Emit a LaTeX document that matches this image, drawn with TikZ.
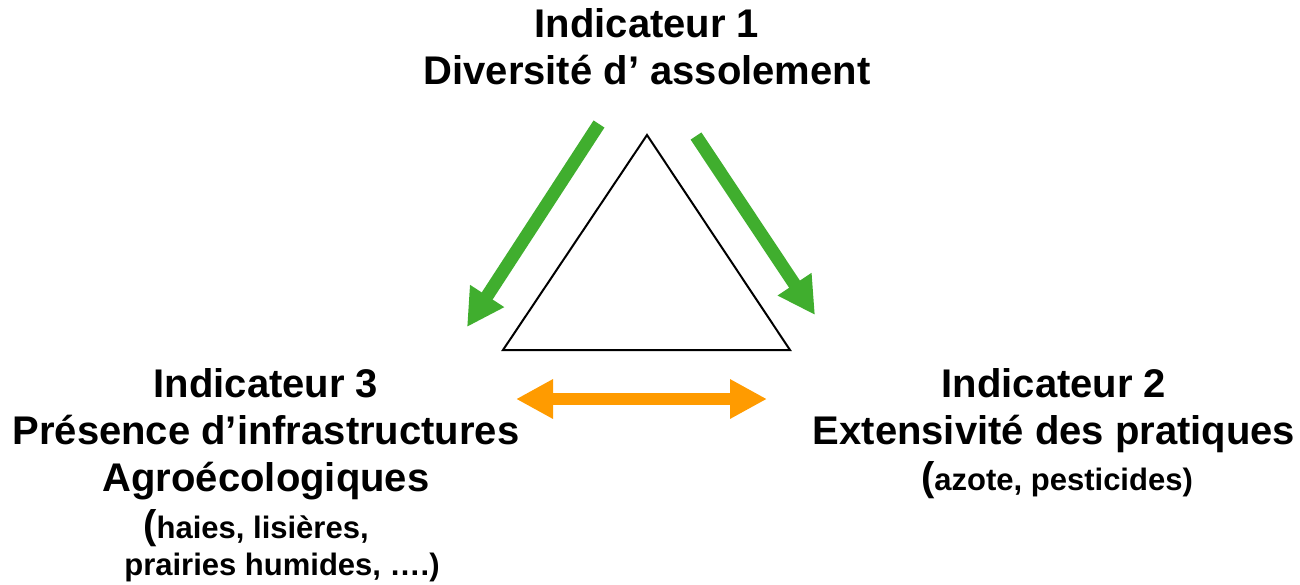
\documentclass[tikz,border=0pt]{standalone}
\usepackage{fontspec}
\setmainfont{Liberation Sans}
\usetikzlibrary{arrows.meta}

\definecolor{leafgreen}{RGB}{64,174,46}
\definecolor{linkorange}{RGB}{255,155,0}

\newcommand{\bigparen}{{\fontsize{40}{46}\selectfont(}}

\tikzset{
  bigtxt/.style={font=\bfseries\fontsize{40}{47}\selectfont, align=center, inner sep=0pt},
  smalltxt/.style={font=\bfseries\fontsize{31}{37}\selectfont, inner sep=0pt},
  flow/.style={line width=13pt, leafgreen, -{Triangle[length=37pt,width=38pt]}},
  link/.style={line width=12.5pt, linkorange, {Triangle[length=37pt,width=37pt]}-{Triangle[length=37pt,width=37pt]}},
}

\begin{document}
\begin{tikzpicture}[x=1pt,y=-1pt]
    \useasboundingbox (0,0) rectangle (1300,584);

    % indicator labels
    \node[bigtxt, anchor=north] (ind1) at (647,8) {Indicateur 1\\Diversité d’ assolement};
    \node[bigtxt, anchor=north] (ind3) at (266,368) {Indicateur 3\\Présence d’infrastructures\\Agroécologiques};
    \node[smalltxt, anchor=base] (ind3a) at (256,538) {\bigparen haies, lisières,};
    \node[smalltxt, anchor=base] (ind3b) at (282,575) {prairies humides, ….)};
    \node[bigtxt, anchor=north] (ind2) at (1054,368) {Indicateur 2\\Extensivité des pratiques};
    \node[smalltxt, anchor=base] (ind2a) at (1057,490) {\bigparen azote, pesticides)};

    % triangle
    \coordinate (apex) at (647,135);
    \coordinate (baseL) at (503,350);
    \coordinate (baseR) at (790,350);
    \draw[line width=2pt] (apex) -- (baseR) -- (baseL) -- cycle;

    % arrows
    \coordinate (g1s) at (599,124);
    \coordinate (g1e) at (467,327);
    \coordinate (g2s) at (696,136);
    \coordinate (g2e) at (815,315);
    \draw[flow] (g1s) -- (g1e);
    \draw[flow] (g2s) -- (g2e);

    \coordinate (oL) at (516,399);
    \coordinate (oR) at (767,399);
    \draw[link] (oL) -- (oR);
\end{tikzpicture}
\end{document}
